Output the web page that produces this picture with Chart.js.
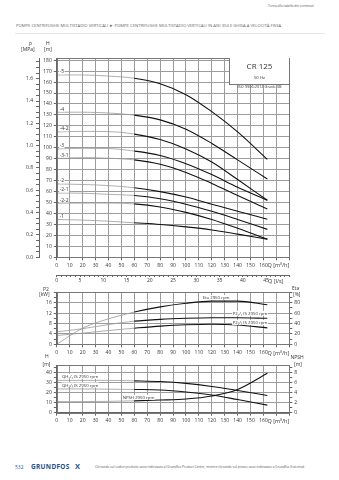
<!DOCTYPE html>
<html>
<head>
<meta charset="utf-8">
<script src="https://cdn.jsdelivr.net/npm/chart.js@4.4.0/dist/chart.umd.min.js"></script>
<style>
  body { margin: 0; width: 339px; height: 480px; background: #fff; position: relative; overflow: hidden; font-family: "Open Sans", sans-serif; color: #444; }
  canvas { position: absolute; left: 0; }
  .t { position: absolute; white-space: nowrap; line-height: 1; }
  .u { font-size: 5px; color: #333; }
  #box { position: absolute; left: 229px; top: 58px; width: 60px; height: 27px; background: #fff; border-left: 1px solid #777; border-bottom: 1px solid #777; box-sizing: border-box; text-align: center; color: #333; }
</style>
</head>
<body>

<div class="t" style="left:268px;top:5px;font-size:3.2px;color:#555">Torna alla tabella dei contenuti</div>
<div class="t" style="left:16px;top:23.5px;font-size:4.2px;color:#666">POMPE CENTRIFUGHE MULTISTADIO VERTICALI ► POMPE CENTRIFUGHE MULTISTADIO VERTICALI IN AISI 304 E GHISA A VELOCITÀ FISSA</div>
<div style="position:absolute;left:15px;top:33px;width:310px;border-top:1px solid #e6e6e6"></div>

<canvas id="headChart" width="339" height="245" style="top:40px"></canvas>
<canvas id="powerChart" width="339" height="75" style="top:285px"></canvas>
<canvas id="npshChart" width="339" height="70" style="top:360px"></canvas>

<div id="box">
  <div style="font-size:8px;margin-top:2px">CR 125</div>
  <div style="font-size:4.3px;margin-top:3px">50 Hz</div>
  <div style="font-size:3.9px;margin-top:4px">ISO 9906:2012 Grade 3B</div>
</div>

<div class="t u" style="left:29px;top:40.5px">p</div>
<div class="t u" style="left:21px;top:46.5px">[MPa]</div>
<div class="t u" style="left:46px;top:40.5px">H</div>
<div class="t u" style="left:44px;top:46.5px">[m]</div>
<div class="t u" style="left:267.5px;top:263px;font-size:5.5px">Q [m³/h]</div>
<div class="t u" style="left:268px;top:279px;font-size:5.5px">Q [l/s]</div>

<div class="t u" style="left:43px;top:286.5px">P2</div>
<div class="t u" style="left:39px;top:292px">[kW]</div>
<div class="t u" style="left:292px;top:285.5px">Eta</div>
<div class="t u" style="left:293px;top:292px">[%]</div>
<div class="t u" style="left:267.5px;top:350.5px;font-size:5.5px">Q [m³/h]</div>

<div class="t u" style="left:45px;top:354px">H</div>
<div class="t u" style="left:42.5px;top:361.5px">[m]</div>
<div class="t u" style="left:290.5px;top:355px">NPSH</div>
<div class="t u" style="left:294px;top:362px">[m]</div>
<div class="t u" style="left:267.5px;top:418.5px;font-size:5.5px">Q [m³/h]</div>

<div class="t" style="left:15px;top:464.5px;font-size:5px;color:#2a5fa5">532</div>
<div class="t" style="left:31px;top:463.5px;font-size:6.5px;font-weight:bold;letter-spacing:0.3px;color:#1f4f8c">GRUNDFOS</div>
<div class="t" style="left:75px;top:462.5px;font-size:7.5px;font-weight:bold;color:#1f4f8c">X</div>
<div class="t" style="left:95px;top:465.5px;font-size:3.2px;color:#555">Cliccando sul codice prodotto sarai indirizzato al Grundfos Product Center, mentre cliccando sul prezzo sarai indirizzato a Grundfos Ecat.mod.</div>

<script>
// flow points (m3/h) shared by all curves
const flowQ = [0, 20, 40, 60, 80, 100, 120, 140, 163];

// QH curves, head in m
const stageNames = ['-5', '-4', '-4-2', '-3', '-3-1', '-2', '-2-1', '-2-2', '-1'];
const head5  = [166.5, 166.5, 165.5, 163.5, 158.5, 148.5, 133, 114.5, 89.4];
const head4  = [132.5, 132.5, 131.8, 129.8, 125.5, 117, 104, 89, 71.5];
const head42 = [114.5, 115, 114.8, 112.5, 107.5, 99, 87, 71, 52.1];
const head3  = [99, 99.5, 99.3, 97, 93, 85.5, 75.5, 64, 52.1];
const head31 = [90.5, 91, 90.5, 89, 85, 77.5, 67.5, 56.5, 44.2];
const head2  = [67, 66.5, 65.5, 63.5, 60, 55, 48.5, 42, 34.8];
const head21 = [58.7, 58.5, 57.5, 56.5, 53.5, 48.5, 42, 34.5, 25.5];
const head22 = [49.4, 49.5, 49.5, 48.8, 46, 41, 34.5, 26.5, 16.6];
const head1  = [34.5, 34, 33, 31.5, 30, 27.8, 25, 21.2, 16.6];

// power (kW) and efficiency (%)
const powerFull    = [4.8, 6, 7.6, 8.9, 9.6, 10, 10.2, 10.2, 10];
const powerReduced = [3.4, 4.3, 5.3, 6.2, 7, 7.5, 7.7, 7.4, 6.3];
const efficiency   = [0, 31, 49, 62, 72, 79, 83, 83, 76];

// single stage head (m) and NPSH (m)
const qhFull    = [32, 32, 32, 31.5, 30.8, 29, 26, 22, 17];
const qhReduced = [23.5, 23.5, 23.3, 23, 22.5, 20.5, 17.5, 13, 7.5];
const npshReq   = [2.2, 2.2, 2.25, 2.35, 2.5, 2.7, 3.3, 4.6, 7.8];

// tick labels
const flowLabels = [0, 10, 20, 30, 40, 50, 60, 70, 80, 90, 100, 110, 120, 130, 140, 150, 160];
const lpsLabels = [0, 5, 10, 15, 20, 25, 30, 35, 40, 45];
const pressureLabels = ['0.0', '0.2', '0.4', '0.6', '0.8', '1.0', '1.2', '1.4', '1.6'];
const headLabels = [0, 10, 20, 30, 40, 50, 60, 70, 80, 90, 100, 110, 120, 130, 140, 150, 160, 170, 180];
const powerLabels = [0, 4, 8, 12, 16];
const etaLabels = [0, 20, 40, 60, 80];
const qhLabels = [0, 10, 20, 30, 40];
const npshLabels = [0, 2, 4, 6, 8];

const GRID = '#9c9c9c', AX = '#666', DARK = '#111', LIGHT = '#9a9a9a';
const MPA_PER_M = 0.00981;

Chart.defaults.font.family = '"Open Sans", sans-serif';
Chart.defaults.font.size = 5;
Chart.defaults.color = '#333';

function pts(ys) {
  return flowQ.map((q, i) => ({ x: q, y: ys[i] }));
}

function curve(ys, axis) {
  return {
    data: pts(ys),
    xAxisID: 'x',
    yAxisID: axis || 'y',
    borderColor: DARK,
    borderWidth: 1,
    pointRadius: 0,
    cubicInterpolationMode: 'monotone',
    segment: {
      borderColor: c => c.p0.parsed.x < 60 ? LIGHT : DARK,
      borderWidth: c => c.p0.parsed.x < 60 ? 0.8 : 1.1
    }
  };
}

// frame round the plot and text on the curves
const frame = {
  id: 'frame',
  afterDatasetsDraw(chart, args, opts) {
    const { ctx, chartArea: a } = chart;
    ctx.save();
    ctx.strokeStyle = '#777';
    ctx.lineWidth = 1;
    ctx.strokeRect(Math.round(a.left) + 0.5, Math.round(a.top) + 0.5,
      Math.round(a.right) - Math.round(a.left), Math.round(a.bottom) - Math.round(a.top));
    ctx.font = (opts.size || 5) + 'px "Open Sans", sans-serif';
    ctx.textBaseline = 'bottom';
    (opts.labels || []).forEach(l => {
      const pt = chart.getDatasetMeta(l.ds).data[l.idx];
      const w = ctx.measureText(l.text).width;
      let x = chart.scales.x.getPixelForValue(l.q);
      if (l.align === 'right') x -= w;
      const y = pt.y + l.dy;
      ctx.fillStyle = '#fff';
      ctx.fillRect(x - 0.5, y - 5, w + 1, 5);
      ctx.fillStyle = '#333';
      ctx.fillText(l.text, x, y);
    });
    ctx.restore();
  }
};

function flowAxis(h) {
  return {
    type: 'linear', position: 'bottom', min: 0, max: 180, weight: 0,
    ticks: { stepSize: 10, autoSkip: false, maxRotation: 0, padding: 2, includeBounds: false,
      callback: v => flowLabels.includes(v) ? String(v) : '' },
    grid: { color: GRID, tickColor: AX, tickLength: 3 },
    border: { color: AX },
    afterFit: s => { s.height = h; }
  };
}

function sideAxis(pos, max, step, labels, w, onArea, gridEvery) {
  return {
    type: 'linear', position: pos, min: 0, max: max,
    ticks: { stepSize: step, autoSkip: false, padding: 2, includeBounds: false,
      callback: v => labels.includes(v) ? String(v) : '' },
    grid: {
      drawOnChartArea: onArea,
      color: c => (c.tick && Math.abs(c.tick.value / gridEvery - Math.round(c.tick.value / gridEvery)) < 1e-6) ? GRID : 'rgba(0,0,0,0)',
      tickColor: AX, tickLength: 3
    },
    border: { color: AX },
    afterFit: s => { s.width = w; }
  };
}

const common = {
  responsive: false,
  animation: false,
  devicePixelRatio: 1,
  events: []
};

// top chart: QH curves for each stage
const headSets = [head5, head4, head42, head3, head31, head2, head21, head22, head1];
new Chart(document.getElementById('headChart'), {
  type: 'line',
  data: { datasets: headSets.map(h => curve(h)) },
  options: Object.assign({}, common, {
    layout: { padding: { left: 19, right: 49.7, top: 18, bottom: 0 } },
    scales: {
      x: flowAxis(17.7),
      xl: {
        type: 'linear', position: 'bottom', min: 0, max: 50, weight: 1,
        ticks: { stepSize: 1, autoSkip: false, maxRotation: 0, padding: 1,
          callback: v => lpsLabels.includes(v) ? String(v) : '' },
        grid: { drawOnChartArea: false, tickColor: AX, tickLength: 2 },
        border: { color: AX },
        afterFit: s => { s.height = 10; }
      },
      y: Object.assign(sideAxis('left', 182, 10, headLabels, 17.8, true, 10), { weight: 0 }),
      p: {
        type: 'linear', position: 'left', min: 0, max: 182 * MPA_PER_M, weight: 1,
        ticks: { stepSize: 0.05, autoSkip: false, padding: 3, includeBounds: false,
          callback: v => (Math.abs(v * 5 - Math.round(v * 5)) < 1e-6 && pressureLabels.includes(v.toFixed(1))) ? v.toFixed(1) : '' },
        grid: { drawOnChartArea: false, tickColor: AX, tickLength: 3 },
        border: { color: AX },
        afterFit: s => { s.width = 20; }
      }
    },
    plugins: {
      legend: { display: false },
      tooltip: { enabled: false },
      frame: { labels: stageNames.map((n, i) => ({ text: n, ds: i, idx: 0, q: 2.2, dy: -0.6 })) }
    }
  }),
  plugins: [frame]
});

// middle chart: power and efficiency
new Chart(document.getElementById('powerChart'), {
  type: 'line',
  data: { datasets: [curve(powerFull), curve(powerReduced), curve(efficiency, 'eta')] },
  options: Object.assign({}, common, {
    layout: { padding: { left: 39, right: 35.7, top: 7.3, bottom: 5.7 } },
    scales: {
      x: flowAxis(10),
      y: sideAxis('left', 20, 2, powerLabels, 17.8, true, 4),
      eta: sideAxis('right', 100, 10, etaLabels, 14, false, 20)
    },
    plugins: {
      legend: { display: false },
      tooltip: { enabled: false },
      frame: { size: 4.3, labels: [
        { text: 'P2₁/₁ IS 2950 rpm', ds: 0, idx: 8, q: 163, align: 'right', dy: -2.5 },
        { text: 'P2₂/₃ IS 2950 rpm', ds: 1, idx: 8, q: 163, align: 'right', dy: -3 },
        { text: 'Eta 2950 rpm', ds: 2, idx: 6, q: 113, dy: -1.2 }
      ] }
    }
  }),
  plugins: [frame]
});

// bottom chart: single stage QH and NPSH
new Chart(document.getElementById('npshChart'), {
  type: 'line',
  data: { datasets: [curve(qhFull), curve(qhReduced), curve(npshReq, 'npsh')] },
  options: Object.assign({}, common, {
    layout: { padding: { left: 39, right: 35.7, top: 4.3, bottom: 5.3 } },
    scales: {
      x: flowAxis(12),
      y: sideAxis('left', 47.2, 5, qhLabels, 17.8, true, 10),
      npsh: sideAxis('right', 9.44, 1, npshLabels, 14, false, 2)
    },
    plugins: {
      legend: { display: false },
      tooltip: { enabled: false },
      frame: { size: 4.3, labels: [
        { text: 'QH₁/₁ IS 2950 rpm', ds: 0, idx: 0, q: 4, dy: -1.5 },
        { text: 'QH₂/₃ IS 2950 rpm', ds: 1, idx: 0, q: 4, dy: -1.5 },
        { text: 'NPSH 2950 rpm', ds: 2, idx: 2, q: 51, dy: -1.5 }
      ] }
    }
  }),
  plugins: [frame]
});
</script>
</body>
</html>
